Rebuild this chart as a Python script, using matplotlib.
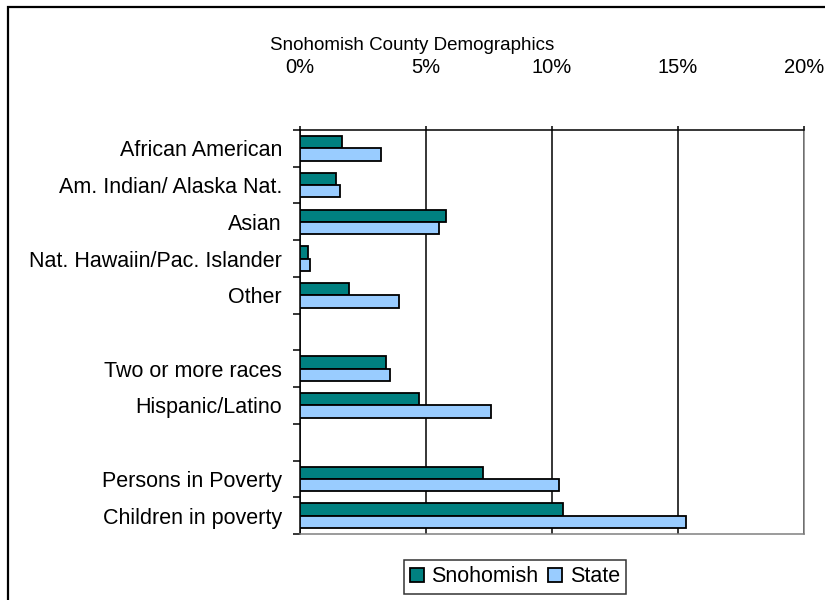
import numpy as np
import matplotlib
matplotlib.use("Agg")
import matplotlib.pyplot as plt
from matplotlib.patches import Rectangle
from matplotlib.ticker import FixedLocator, PercentFormatter

# blank entries leave a gap between groups of rows
categories = ["African American", "Am. Indian/ Alaska Nat.", "Asian",
              "Nat. Hawaiin/Pac. Islander", "Other", "",
              "Two or more races", "Hispanic/Latino", "",
              "Persons in Poverty", "Children in poverty"]
snohomish = [1.68, 1.43, 5.8, 0.32, 1.93, np.nan, 3.43, 4.71, np.nan, 7.25, 10.45]
state = [3.2, 1.6, 5.5, 0.41, 3.92, np.nan, 3.59, 7.57, np.nan, 10.27, 15.31]
xticks = [0, 5, 10, 15, 20]

plt.rcParams['font.family'] = ['Liberation Sans', 'DejaVu Sans']

fig = plt.figure(figsize=(8.25, 6), dpi=100)
ax = fig.add_axes([300/825, 1 - 534/600, 504/825, 404/600])

y = np.arange(len(categories))
h = 0.335
ax.barh(y - h/2, snohomish, height=h, color='#008080', edgecolor='black',
        linewidth=1.3, label='Snohomish', zorder=3)
ax.barh(y + h/2, state, height=h, color='#99CCFF', edgecolor='black',
        linewidth=1.3, label='State', zorder=3)

ax.set_xlim(0, 20)
ax.set_ylim(len(categories) - 0.5, -0.5)
ax.set_xticks(xticks)
ax.xaxis.set_major_formatter(PercentFormatter(decimals=0))
ax.xaxis.tick_top()
ax.tick_params(axis='x', length=3, width=1.1, pad=35, labelsize=14.5)
ax.xaxis.grid(True, color='black', linewidth=1.1, zorder=1)

ax.set_yticks(y)
ax.set_yticklabels(categories)
ax.yaxis.set_minor_locator(FixedLocator(np.arange(len(categories) + 1) - 0.5))
ax.tick_params(axis='y', which='major', length=0, pad=13, labelsize=15.5)
ax.tick_params(axis='y', which='minor', length=5, width=1.1)

for side in ['top', 'left']:
    ax.spines[side].set_color('black')
    ax.spines[side].set_linewidth(1.1)
for side in ['bottom', 'right']:
    ax.spines[side].set_color('#808080')
    ax.spines[side].set_linewidth(1.1)

fig.text(0.499, 1 - 45/600, "Snohomish County Demographics", ha='center',
         va='center', fontsize=13.5)

leg = fig.legend(loc='center', bbox_to_anchor=(515/825, 1 - 577/600), ncol=2,
                 fontsize=15.5, frameon=True, fancybox=False, edgecolor='black',
                 handlelength=0.65, handleheight=0.65, handletextpad=0.35,
                 columnspacing=0.45, borderpad=0.3, borderaxespad=0)
leg.get_frame().set_linewidth(1.1)

# outer chart border (runs off the right and bottom edges)
fig.patches.append(Rectangle((8/825, -0.1), 1.2, 1.1 - 7/600, fill=False,
                             edgecolor='black', linewidth=1.6,
                             transform=fig.transFigure, clip_on=False))

fig.savefig("out.png", dpi=100)
